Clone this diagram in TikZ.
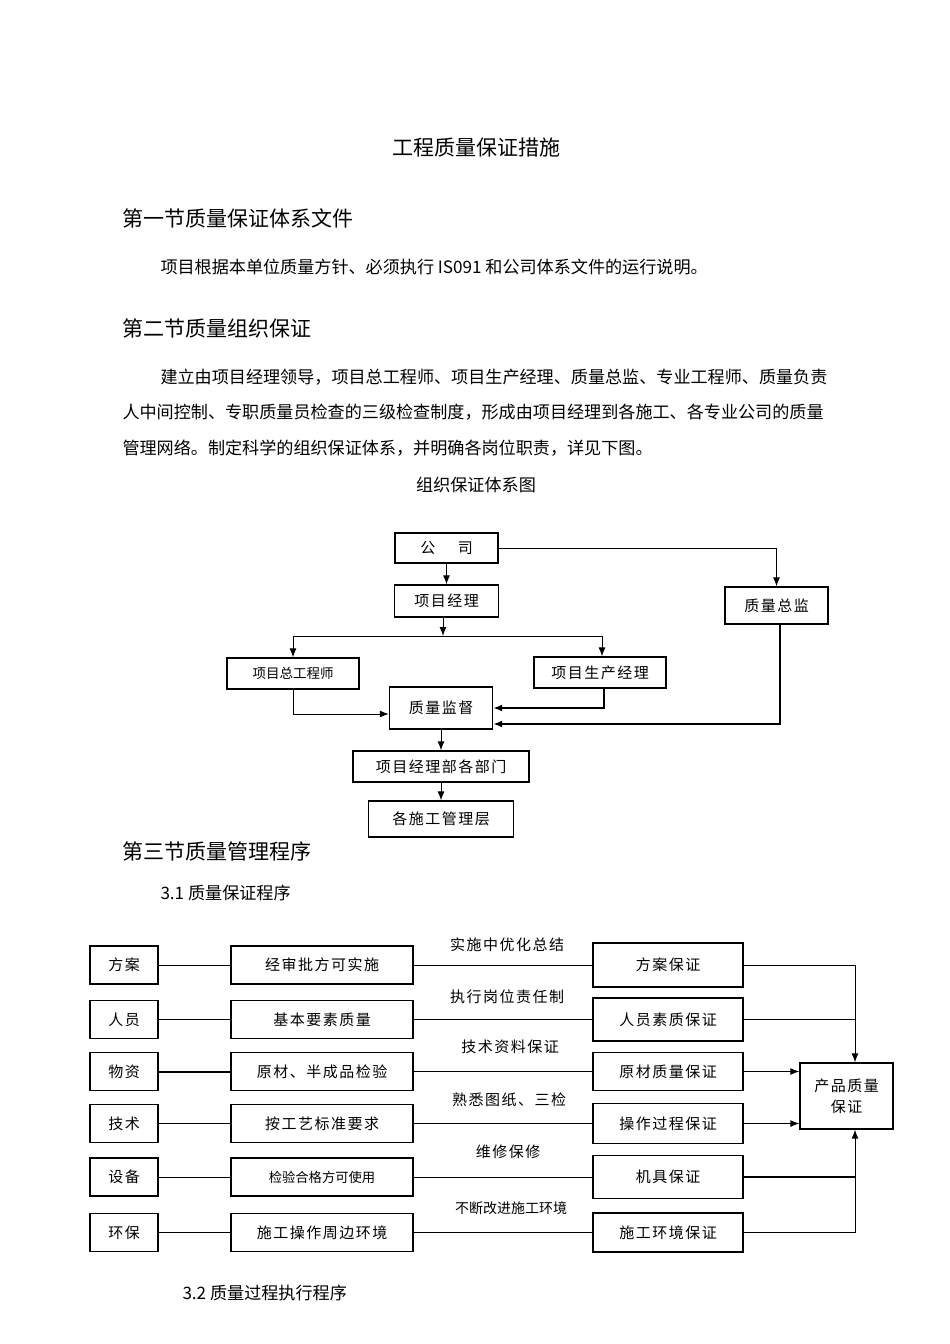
\documentclass[tikz,border=0pt]{standalone}
\usepackage{fontspec}
\setmainfont{Noto Sans CJK SC}
\newfontfamily\spacedfont[LetterSpace=10]{Noto Sans CJK SC}
\usetikzlibrary{arrows.meta}
\usetikzlibrary{positioning}
\newcommand{\bodysize}{\fontsize{17.1}{20}\selectfont}
\newcommand{\headsize}{\fontsize{21}{24}\selectfont}
\newcommand{\boxsize}{\spacedfont\fontsize{15}{18}\selectfont}
\newcommand{\tightsize}{\fontsize{13.5}{16}\selectfont}

\begin{document}
\begin{tikzpicture}[
  x=1pt, y=-1pt,
  > = {Latex[length=9pt,width=7pt]},
  line width=1pt,
  txt/.style = {inner sep=0pt, anchor=west},
  orgbox/.style = {draw, line width=1.3pt, inner sep=0pt, font=\boxsize},
  lbox/.style = {orgbox, minimum width=68pt, minimum height=38pt},
  mbox/.style = {orgbox, minimum width=182pt, minimum height=38pt},
  rbox/.style = {orgbox, minimum width=150pt},
  lbl/.style = {inner sep=0pt, font=\boxsize},
  thickline/.style = {line width=2pt}
  ]
	\useasboundingbox (0,0) rectangle (950,1344);

	% text of the page
	\node[txt, anchor=center, font=\headsize] (title) at (476.5,148) {工程质量保证措施};
	\node[txt, font=\headsize] (sec1) at (122,218) {第一节质量保证体系文件};
	\node[txt, font=\bodysize] (par1) at (160,267) {项目根据本单位质量方针、必须执行 IS091 和公司体系文件的运行说明。};
	\node[txt, font=\headsize] (sec2) at (122,328) {第二节质量组织保证};
	\node[txt, font=\bodysize] (par2a) at (160,377) {建立由项目经理领导，项目总工程师、项目生产经理、质量总监、专业工程师、质量负责};
	\node[txt, font=\bodysize] (par2b) at (122,412) {人中间控制、专职质量员检查的三级检查制度，形成由项目经理到各施工、各专业公司的质量};
	\node[txt, font=\bodysize] (par2c) at (122,448) {管理网络。制定科学的组织保证体系，并明确各岗位职责，详见下图。};
	\node[txt, anchor=center, font=\bodysize] (cap1) at (476,485) {组织保证体系图};

	% organisation chart
	\node[orgbox, minimum width=103pt, minimum height=30pt] (gongsi) at (446.5,548) {公\hspace{1.5em}司};
	\node[orgbox, minimum width=104pt, minimum height=32pt] (jingli) at (446.5,601) {项目经理};
	\node[orgbox, minimum width=103pt, minimum height=37pt] (zongjian) at (776.5,605.5) {质量总监};
	\node[orgbox, minimum width=132pt, minimum height=31pt, font=\tightsize] (zonggong) at (293,673.5) {项目总工程师};
	\node[orgbox, minimum width=132pt, minimum height=31pt] (shengchan) at (600,672.5) {项目生产经理};
	\node[orgbox, minimum width=103pt, minimum height=42pt] (jiandu) at (441,708) {质量监督};
	\node[orgbox, minimum width=176pt, minimum height=31pt] (bumen) at (441,766.5) {项目经理部各部门};
	\node[orgbox, minimum width=145pt, minimum height=36pt] (guanli) at (441,819) {各施工管理层};

	\coordinate (fork) at (443,636);
	\draw[->] (gongsi) -- (jingli);
	\draw[->] (jingli.south -| fork) -- (fork);
	\draw[->] (fork) -| (zonggong.north);
	\draw[->] (fork) -| ([xshift=2pt]shengchan.north);
	\draw[->] (gongsi.east) -| (zongjian.north);
	\draw[->] (zonggong.south) |- ([yshift=-6pt]jiandu.west);
	\draw[->, thickline] ([xshift=4pt]shengchan.south) |- (jiandu.east);
	\draw[->, thickline] ([xshift=3.5pt]zongjian.south) |- ([yshift=-16pt]jiandu.east);
	\draw[->] (jiandu) -- (bumen);
	\draw[->] (bumen) -- (guanli);

	\node[txt, font=\headsize] (sec3) at (122,851) {第三节质量管理程序};
	\node[txt, font=\bodysize] (sub31) at (160,893) {3.1 质量保证程序};

	% quality assurance procedure
	\node[lbox] (fangan) at (124,965) {方案};
	\node[lbox] (renyuan) at (124,1019.5) {人员};
	\node[lbox] (wuzi) at (124,1071.5) {物资};
	\node[lbox] (jishu) at (124,1123.5) {技术};
	\node[lbox] (shebei) at (124,1177) {设备};
	\node[lbox] (huanbao) at (124,1232.5) {环保};

	\node[mbox] (shenpi) at (322,965) {经审批方可实施};
	\node[mbox] (yaosu) at (322,1019.5) {基本要素质量};
	\node[mbox] (jianyan) at (322,1071.5) {原材、半成品检验};
	\node[mbox] (gongyi) at (322,1123.5) {按工艺标准要求};
	\node[mbox, font=\fontsize{13.3}{16}\selectfont] (hege) at (322,1177) {检验合格方可使用};
	\node[mbox] (zhoubian) at (322,1232.5) {施工操作周边环境};

	\node[rbox, minimum height=44pt] (fabz) at (668,965) {方案保证};
	\node[rbox, minimum height=43pt] (rybz) at (668,1019.5) {人员素质保证};
	\node[rbox, minimum height=38pt] (ycbz) at (668,1071.5) {原材质量保证};
	\node[rbox, minimum height=40pt] (czbz) at (668,1123.5) {操作过程保证};
	\node[rbox, minimum height=43pt] (jjbz) at (668,1177) {机具保证};
	\node[rbox, minimum height=39pt] (hjbz) at (668,1232.5) {施工环境保证};

	\node[orgbox, minimum width=93pt, minimum height=66pt, align=center] (chanpin) at (846.5,1096) {产品质量\\[3pt]保证};

	\node[lbl] (youhua) at (507,945) {实施中优化总结};
	\node[lbl] (zeren) at (507,997) {执行岗位责任制};
	\node[lbl] (ziliao) at (510,1047) {技术资料保证};
	\node[lbl] (tuzhi) at (509,1100) {熟悉图纸、三检};
	\node[lbl] (baoxiu) at (508,1152) {维修保修};
	\node[lbl, font=\fontsize{14}{16}\selectfont] (gaijin) at (511,1208) {不断改进施工环境};

	\draw (fangan) -- (shenpi);
	\draw (renyuan) -- (yaosu);
	\draw[thickline] (wuzi) -- (jianyan);
	\draw (jishu) -- (gongyi);
	\draw (shebei) -- (hege);
	\draw (huanbao) -- (zhoubian);

	\draw (shenpi) -- (fabz);
	\draw (yaosu) -- (rybz);
	\draw (jianyan) -- (ycbz);
	\draw (gongyi) -- (czbz);
	\draw (hege) -- (jjbz);
	\draw (zhoubian) -- (hjbz);

	\coordinate (injoin) at ([xshift=8.5pt]chanpin.north);
	\coordinate (outjoin) at ([xshift=8.5pt]chanpin.south);
	\draw[->] (fabz.east) -| (injoin);
	\draw (rybz.east) -- (rybz.east -| injoin);
	\draw[->] (ycbz.east) -- (ycbz.east -| chanpin.west);
	\draw[->] (czbz.east) -- (czbz.east -| chanpin.west);
	\draw[thickline] (jjbz.east) -- (jjbz.east -| outjoin);
	\draw[->] (hjbz.east) -| (outjoin);

	\node[txt, font=\bodysize] (sub32) at (182,1293) {3.2 质量过程执行程序};

\end{tikzpicture}
\end{document}
